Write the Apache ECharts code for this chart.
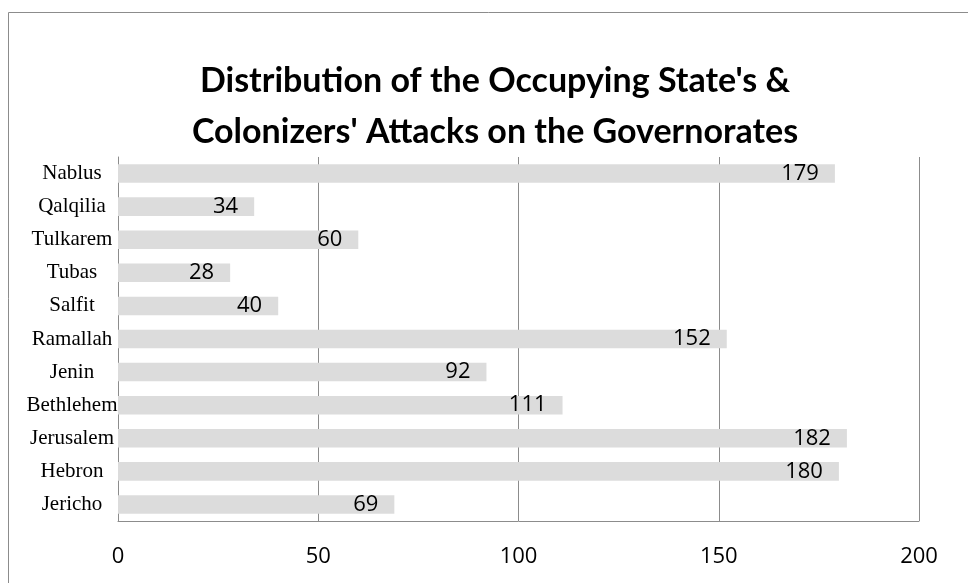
<!DOCTYPE html>
<html>
<head>
<meta charset="utf-8">
<script src="https://cdn.jsdelivr.net/npm/echarts@6/dist/echarts.min.js"></script>
<style>
  html, body { margin: 0; padding: 0; background: #fff; }
  #chart { width: 968px; height: 583px; }
</style>
</head>
<body>
<div id="chart"></div>
<script>
// categories from bottom to top (ECharts draws the first category at the bottom)
var governorates = ["Jericho", "Hebron", "Jerusalem", "Bethlehem", "Jenin", "Ramallah", "Salfit", "Tubas", "Tulkarem", "Qalqilia", "Nablus"];
var attacks = [69, 180, 182, 111, 92, 152, 40, 28, 60, 34, 179];
var valueTicks = [0, 50, 100, 150, 200];

var chart = echarts.init(document.getElementById('chart'));

var option = {
    animation: false,
    title: {
        text: "Distribution of the Occupying State's &\nColonizers' Attacks on the Governorates",
        left: 490,
        top: 51,
        textAlign: 'center',
        textStyle: {
            fontFamily: 'Lato',
            fontWeight: 'bold',
            fontSize: 34,
            lineHeight: 51,
            color: '#000'
        }
    },
    graphic: [
        {
            type: 'rect',
            shape: { x: 8.5, y: 12.5, width: 1200, height: 1200 },
            style: { fill: 'none', stroke: '#8c8c8c', lineWidth: 1 },
            silent: true
        }
    ],
    grid: {
        left: 118,
        right: 49,
        top: 157,
        bottom: 62,
        containLabel: false
    },
    xAxis: {
        type: 'value',
        min: valueTicks[0],
        max: valueTicks[valueTicks.length - 1],
        interval: 50,
        axisLine: { show: true, lineStyle: { color: '#8c8c8c', width: 1 } },
        axisTick: { show: false },
        splitLine: { show: true, lineStyle: { color: '#8c8c8c', width: 1 } },
        axisLabel: {
            margin: 25,
            fontFamily: 'Open Sans',
            fontSize: 22,
            color: '#000'
        }
    },
    yAxis: {
        type: 'category',
        data: governorates,
        axisLine: { show: true, lineStyle: { color: '#8c8c8c', width: 1 } },
        axisTick: { show: false },
        axisLabel: {
            align: 'center',
            margin: 46,
            fontFamily: 'Liberation Serif',
            fontSize: 21,
            color: '#000'
        }
    },
    series: [
        {
            name: 'Attacks',
            type: 'bar',
            data: attacks,
            barCategoryGap: '44%',
            itemStyle: { color: '#dcdcdc' },
            label: {
                show: true,
                position: 'insideRight',
                distance: 16,
                fontFamily: 'Open Sans',
                fontSize: 22,
                color: '#000'
            }
        }
    ]
};

chart.setOption(option);
</script>
</body>
</html>
